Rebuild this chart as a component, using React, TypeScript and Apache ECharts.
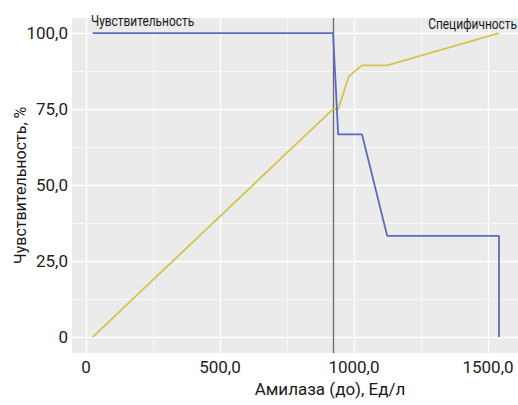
import React, { useEffect, useRef } from "react";
import * as echarts from "echarts";

const sensAmylase = [25, 922, 941, 1030, 1124, 1541, 1541];
const sensitivity = [100, 100, 66.7, 66.7, 33.3, 33.3, 0];
const specAmylase = [25, 922, 941, 981, 1030, 1124, 1541];
const specificity = [0, 75, 75, 85.8, 89.4, 89.4, 100];
const cutoff = 922;

const xTicks = [0, 500, 1000, 1500];
const xMinor = [250, 750, 1250];
const yTicks = [0, 25, 50, 75, 100];
const yMinor = [12.5, 37.5, 62.5, 87.5];

const FONT = 'Roboto, "Noto Sans", sans-serif';
const BLUE = "#5d69c0";
const YELLOW = "#d5c34c";

const fmt = (v: number) => (v === 0 ? "0" : v.toFixed(1).replace(".", ","));

export default function App() {
  const ref = useRef<HTMLDivElement>(null);
  useEffect(() => {
    if (!ref.current) return;
    const chart = echarts.init(ref.current, null, { renderer: "svg" });
    const gridLines = [
      ...xMinor.map((v) => ({ xAxis: v, lineStyle: { color: "#ffffff", width: 0.6, type: "solid" } })),
      ...yMinor.map((v) => ({ yAxis: v, lineStyle: { color: "#ffffff", width: 0.6, type: "solid" } })),
      ...xTicks.map((v) => ({ xAxis: v, lineStyle: { color: "#ffffff", width: 1.3, type: "solid" } })),
      ...yTicks.map((v) => ({ yAxis: v, lineStyle: { color: "#ffffff", width: 1.3, type: "solid" } })),
    ];
    chart.setOption({
      animation: false,
      grid: {
        left: 72,
        top: 18,
        right: 0,
        bottom: 52,
        show: true,
        backgroundColor: "#ebebeb",
        borderWidth: 0,
        containLabel: false,
        outerBoundsMode: "none",
      },
      xAxis: {
        type: "value",
        min: -52,
        max: 1612,
        name: "Амилаза (до), Ед/л",
        nameLocation: "middle",
        nameGap: 27,
        nameMoveOverlap: false,
        nameTextStyle: {
          fontFamily: FONT,
          fontSize: 17,
          color: "#1a1a1a",
          padding: [0, 0, 0, 70],
        },
        axisLine: { show: false },
        axisTick: { show: true, length: 3, lineStyle: { color: "#333333", width: 1.1 }, customValues: xTicks },
        axisLabel: {
          customValues: xTicks,
          formatter: (v: number) => fmt(v),
          fontFamily: FONT,
          fontSize: 17,
          color: "#222222",
          margin: 5,
        },
        splitLine: { show: false },
      },
      yAxis: {
        type: "value",
        min: -5.25,
        max: 105,
        name: "Чувствительность, %",
        nameLocation: "middle",
        nameGap: 44,
        nameMoveOverlap: false,
        nameTextStyle: { fontFamily: FONT, fontSize: 16, color: "#1a1a1a" },
        axisLine: { show: false },
        axisTick: { show: true, length: 3, lineStyle: { color: "#333333", width: 1.1 }, customValues: yTicks },
        axisLabel: {
          customValues: yTicks,
          formatter: (v: number) => fmt(v),
          fontFamily: FONT,
          fontSize: 17,
          color: "#222222",
          margin: 4,
        },
        splitLine: { show: false },
      },
      graphic: [
        {
          type: "text",
          x: 91,
          y: 14,
          scaleX: 0.85,
          style: { text: "Чувствительность", fontFamily: FONT, fontSize: 14, fill: "#1a1a1a" },
          z: 100,
        },
        {
          type: "text",
          x: 517,
          y: 17,
          scaleX: 0.85,
          style: { text: "Специфичность", fontFamily: FONT, fontSize: 14, fill: "#1a1a1a", align: "right" },
          z: 100,
        },
      ],
      series: [
        {
          name: "grid",
          type: "line",
          data: [],
          z: 1,
          silent: true,
          markLine: {
            silent: true,
            z: 1,
            symbol: "none",
            label: { show: false },
            data: [
              ...gridLines,
              { xAxis: cutoff, lineStyle: { color: "#6b6b6b", width: 1.3, type: "solid" } },
            ],
          },
        },
        {
          name: "Специфичность",
          type: "line",
          data: specAmylase.map((x, i) => [x, specificity[i]]),
          showSymbol: false,
          symbol: "none",
          lineStyle: { color: YELLOW, width: 1.8 },
          z: 3,
        },
        {
          name: "Чувствительность",
          type: "line",
          data: sensAmylase.map((x, i) => [x, sensitivity[i]]),
          showSymbol: false,
          symbol: "none",
          lineStyle: { color: BLUE, width: 1.8 },
          z: 4,
        },
      ],
    });
    return () => chart.dispose();
  }, []);
  return (
    <div
      ref={ref}
      style={{ position: "fixed", left: 0, top: 0, width: 518, height: 405, background: "#ffffff" }}
    />
  );
}
